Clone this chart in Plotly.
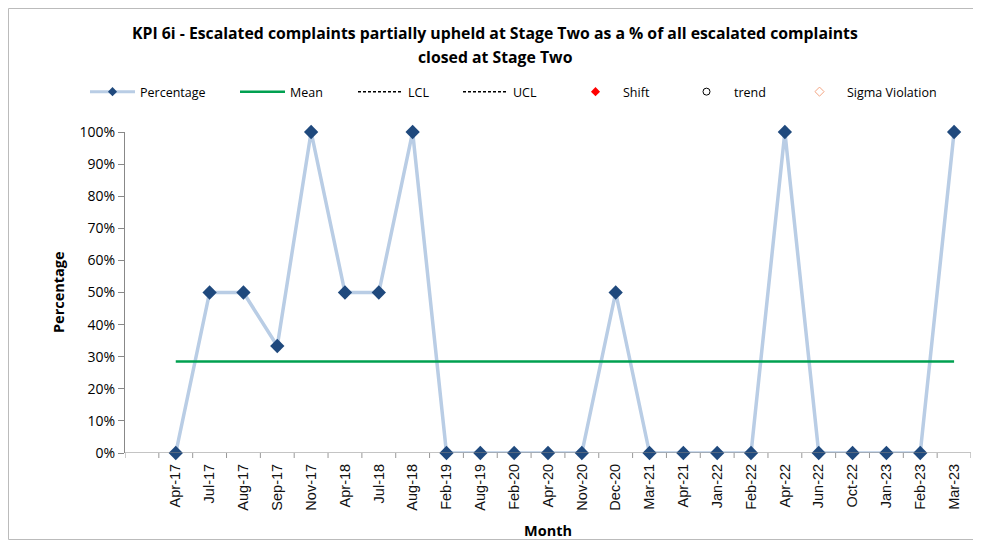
import plotly.graph_objects as go

months = ["Apr-17", "Jul-17", "Aug-17", "Sep-17", "Nov-17", "Apr-18", "Jul-18", "Aug-18",
          "Feb-19", "Aug-19", "Feb-20", "Apr-20", "Nov-20", "Dec-20", "Mar-21", "Apr-21",
          "Jan-22", "Feb-22", "Apr-22", "Jun-22", "Oct-22", "Jan-23", "Feb-23", "Mar-23"]
percentage = [0, 50, 50, 33.33, 100, 50, 50, 100, 0, 0, 0, 0, 0, 50, 0, 0, 0, 0, 100, 0, 0, 0, 0, 100]
mean_val = sum(percentage) / len(percentage)
mean = [mean_val] * len(months)
y_ticks = [0, 10, 20, 30, 40, 50, 60, 70, 80, 90, 100]

idx = list(range(len(months)))
font = "Open Sans"

OFF = 8  # page body margin
W, H = 981 - OFF, 540 - OFF
# plot area in reference pixels
PL, PR, PT, PB = 125, 971, 132, 453
L, T = PL - OFF, PT - OFF
R, B = W - (PR - OFF), H - (PB - OFF)
pw, ph = W - L - R, H - T - B

def px_x(p):
    return (p - OFF - L) / pw

def px_y(p):
    return 1 - (p - OFF - T) / ph

legend_y = px_y(92)

fig = go.Figure()
fig.add_trace(go.Scatter(x=idx, y=percentage, mode="lines+markers", name="Percentage",
                         line=dict(color="#B9CDE5", width=3.5), cliponaxis=False,
                         marker=dict(symbol="diamond", size=11, color="#1F497D"),
                         showlegend=False))
# legend entry for the percentage series (smaller marker, as in the reference legend)
fig.add_trace(go.Scatter(x=[None], y=[None], mode="lines+markers", name="Percentage",
                         line=dict(color="#B9CDE5", width=3),
                         marker=dict(symbol="diamond", size=7, color="#1F497D"), legend="legend"))
fig.add_trace(go.Scatter(x=idx, y=mean, mode="lines", name="Mean",
                         line=dict(color="#00A050", width=2.5), legend="legend2"))
fig.add_trace(go.Scatter(x=[None], y=[None], mode="lines", name="LCL",
                         line=dict(color="black", width=1.5, dash="3px,2px"), legend="legend3"))
fig.add_trace(go.Scatter(x=[None], y=[None], mode="lines", name="UCL",
                         line=dict(color="black", width=1.5, dash="3px,2px"), legend="legend4"))
fig.add_trace(go.Scatter(x=[None], y=[None], mode="markers", name="Shift",
                         marker=dict(symbol="diamond", size=7, color="red"), legend="legend5"))
fig.add_trace(go.Scatter(x=[None], y=[None], mode="markers", name="trend",
                         marker=dict(symbol="circle-open", size=7, color="black"), legend="legend6"))
fig.add_trace(go.Scatter(x=[None], y=[None], mode="markers", name="Sigma Violation",
                         marker=dict(symbol="diamond-open", size=7, color="#F4A582"), legend="legend7"))

legend_starts = [85, 235, 353, 458, 568, 679, 792]
legend_common = dict(orientation="h", y=legend_y, yanchor="middle", xanchor="left",
                     font=dict(size=12.5, family=font), itemwidth=45,
                     bgcolor="rgba(0,0,0,0)")
legends = {}
for i, s in enumerate(legend_starts):
    key = "legend" if i == 0 else f"legend{i + 1}"
    legends[key] = dict(x=px_x(s), **legend_common)

fig.update_layout(
    width=W, height=H,
    margin=dict(l=L, r=R, t=T, b=B, autoexpand=False),
    paper_bgcolor="white", plot_bgcolor="white",
    font=dict(family=font, color="black"),
    showlegend=True,
    xaxis=dict(range=[-1.5, 23.5], tickmode="array", tickvals=idx, ticktext=months,
               tickangle=-90, tickfont=dict(size=14.5, family="Liberation Sans", color="#111111"),
               showgrid=False, zeroline=False,
               showline=False, ticks="", automargin=False, ticklabelstandoff=7),
    yaxis=dict(range=[0, 100], tickmode="array", tickvals=y_ticks,
               ticktext=[f"{v}%" for v in y_ticks], tickfont=dict(size=14),
               showgrid=False, zeroline=False, showline=True, linecolor="#888888",
               ticks="outside", ticklen=6, tickcolor="#888888", automargin=False),
    **legends,
)

# titles as annotations
title_font = dict(size=15.8, family=font)
fig.add_annotation(text="<b>KPI 6i - Escalated complaints partially upheld at Stage Two as a % of all escalated complaints</b>",
                   xref="paper", yref="paper", x=px_x(495), y=px_y(33),
                   xanchor="center", yanchor="middle", showarrow=False, font=title_font)
fig.add_annotation(text="<b>closed at Stage Two</b>",
                   xref="paper", yref="paper", x=px_x(495), y=px_y(57),
                   xanchor="center", yanchor="middle", showarrow=False, font=title_font)
fig.add_annotation(text="<b>Month</b>", xref="paper", yref="paper", x=px_x(548),
                   y=px_y(530), xanchor="center", yanchor="middle",
                   showarrow=False, font=dict(size=14.5, family=font))
fig.add_annotation(text="<b>Percentage</b>", xref="paper", yref="paper", x=px_x(58),
                   y=px_y(292), xanchor="center", yanchor="middle", textangle=-90,
                   showarrow=False, font=dict(size=14.5, family=font))

# x-axis baseline and boundary ticks
fig.add_shape(type="line", xref="x", yref="y", x0=-1.5, x1=23.5, y0=0, y1=0,
              line=dict(color="#888888", width=1))
for b in [i - 0.5 for i in range(-1, 25)]:
    fig.add_shape(type="line", xref="x", yref="paper", x0=b, x1=b, y0=0, y1=-5 / ph,
                  line=dict(color="#999999", width=1))

# outer border of the chart frame
fig.add_shape(type="rect", xref="paper", yref="paper",
              x0=px_x(OFF + 0.5), x1=px_x(980.5), y0=px_y(539.5), y1=px_y(OFF + 0.5),
              line=dict(color="#BBBBBB", width=1), layer="below")

fig.write_html("out.html")
